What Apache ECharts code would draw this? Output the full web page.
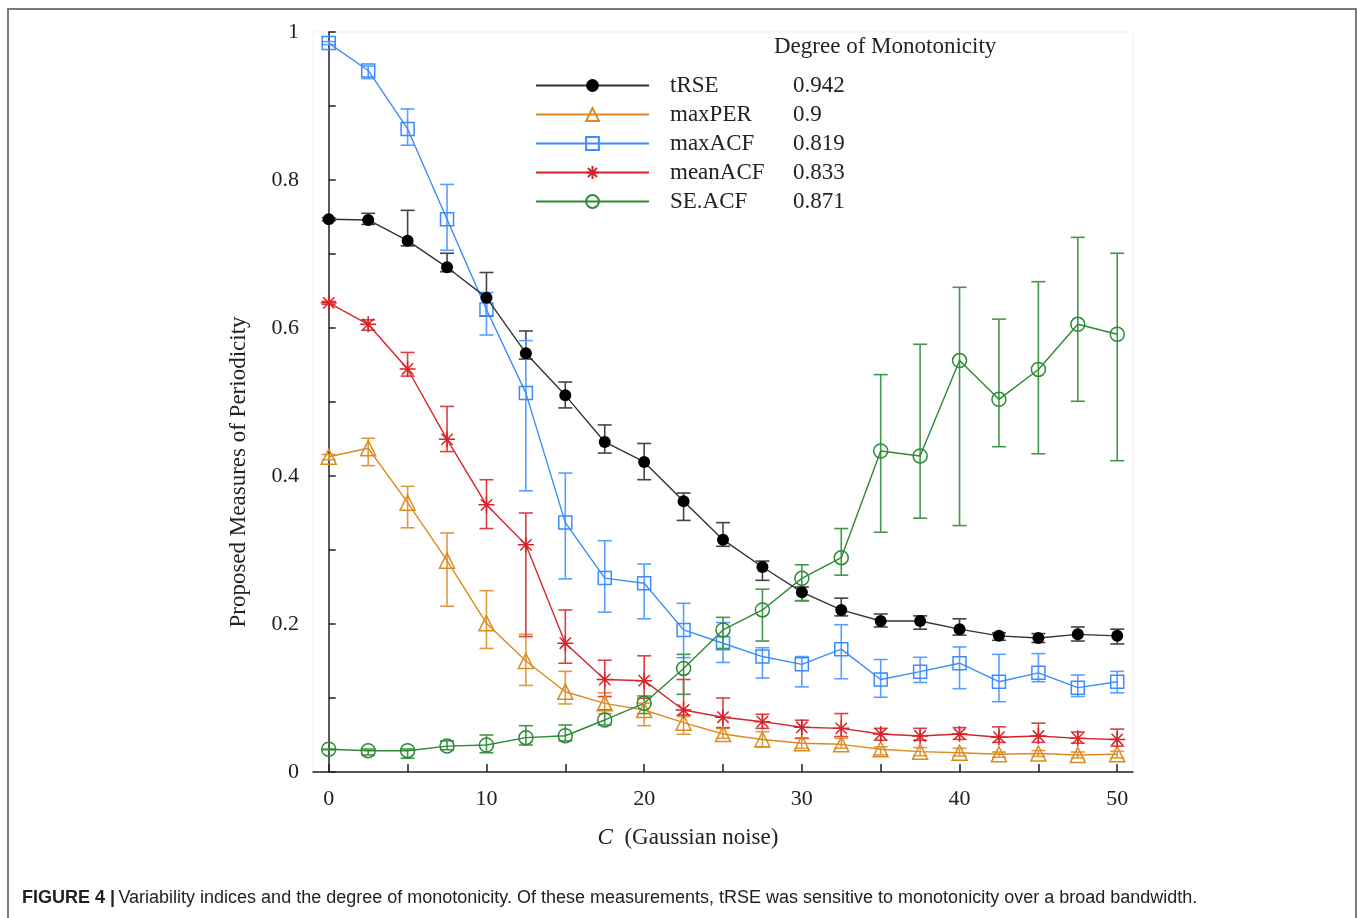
<!DOCTYPE html>
<html><head><meta charset="utf-8">
<script src="https://cdn.jsdelivr.net/npm/echarts@6/dist/echarts.min.js"></script>
<style>html,body{margin:0;padding:0;background:#fff}#c{width:1357px;height:918px}</style>
</head><body><div id="c"></div>
<script>
const xs = [0,2.5,5,7.5,10,12.5,15,17.5,20,22.5,25,27.5,30,32.5,35,37.5,40,42.5,45,47.5,50];
const seriesNames = ['tRSE','maxPER','maxACF','meanACF','SE.ACF'];
const monotonicity = ['0.942','0.9','0.819','0.833','0.871'];

const tRSE    = [0.747,0.746,0.718,0.682,0.641,0.566,0.509,0.446,0.419,0.366,0.314,0.277,0.243,0.219,0.204,0.204,0.193,0.184,0.181,0.186,0.184];
const tRSE_hi = [0.749,0.755,0.759,0.701,0.675,0.596,0.527,0.469,0.444,0.377,0.337,0.285,0.250,0.235,0.2135,0.211,0.207,0.188,0.187,0.196,0.193];
const tRSE_lo = [0.745,0.740,0.711,0.676,0.616,0.558,0.492,0.431,0.395,0.340,0.305,0.259,0.2315,0.211,0.196,0.193,0.185,0.178,0.175,0.177,0.173];

const maxPER    = [0.426,0.4375,0.364,0.2856,0.201,0.150,0.1085,0.0928,0.0838,0.0667,0.0513,0.044,0.0388,0.0374,0.0307,0.0275,0.026,0.024,0.025,0.023,0.024];
const maxPER_hi = [0.429,0.451,0.386,0.323,0.245,0.186,0.136,0.107,0.093,0.075,0.059,0.0545,0.0455,0.0455,0.034,0.033,0.032,0.027,0.029,0.027,0.028];
const maxPER_lo = [0.422,0.414,0.330,0.224,0.167,0.117,0.092,0.079,0.0626,0.051,0.0455,0.034,0.032,0.032,0.023,0.022,0.0216,0.020,0.021,0.019,0.019];

const maxACF    = [0.985,0.948,0.869,0.747,0.625,0.512,0.337,0.262,0.255,0.192,0.174,0.156,0.1455,0.166,0.125,0.1356,0.147,0.122,0.134,0.114,0.122];
const maxACF_hi = [0.987,0.954,0.896,0.794,0.648,0.583,0.404,0.3126,0.281,0.228,0.202,0.168,0.156,0.199,0.152,0.155,0.169,0.159,0.160,0.131,0.136];
const maxACF_lo = [0.983,0.937,0.847,0.705,0.5905,0.380,0.261,0.216,0.207,0.1545,0.148,0.127,0.115,0.126,0.101,0.121,0.1126,0.095,0.122,0.102,0.107];

const meanACF    = [0.634,0.605,0.5446,0.4495,0.361,0.307,0.174,0.125,0.1234,0.0838,0.074,0.068,0.0604,0.059,0.0513,0.0486,0.0513,0.047,0.0486,0.0455,0.044];
const meanACF_hi = [0.636,0.611,0.567,0.494,0.395,0.350,0.219,0.151,0.157,0.125,0.100,0.078,0.070,0.079,0.059,0.059,0.060,0.061,0.066,0.054,0.058];
const meanACF_lo = [0.632,0.597,0.535,0.433,0.329,0.183,0.147,0.102,0.0995,0.077,0.060,0.059,0.0455,0.048,0.043,0.043,0.044,0.040,0.040,0.039,0.035];

const seACF    = [0.0307,0.0288,0.0288,0.035,0.0365,0.0464,0.049,0.0703,0.0928,0.140,0.192,0.219,0.2617,0.2896,0.4338,0.427,0.556,0.5036,0.544,0.605,0.5915];
const seACF_hi = [0.031,0.031,0.031,0.042,0.050,0.0626,0.0635,0.084,0.1027,0.159,0.209,0.247,0.280,0.329,0.537,0.578,0.655,0.612,0.6626,0.7225,0.701];
const seACF_lo = [0.030,0.023,0.0185,0.030,0.026,0.0365,0.042,0.0635,0.079,0.105,0.167,0.177,0.2315,0.266,0.324,0.343,0.333,0.4396,0.430,0.501,0.4207];

const xTicks = [0,5,10,15,20,25,30,35,40,45,50];
const xLabels = [0,10,20,30,40,50];
const yLabels = [0,0.2,0.4,0.6,0.8,1];

const SERIF = '"Liberation Serif","DejaVu Serif",serif';
const colors = ['#111111','#dc8a1e','#3a8cff','#d8232a','#2c8a34'];
const barColors = ['#444444','#e09a3e','#5a9eff','#dc3f45','#44964a'];
const symbols = ['circle','triangle','rect',
  'path://M0,-10 L0,10 M-10,0 L10,0 M-7.07,-7.07 L7.07,7.07 M-7.07,7.07 L7.07,-7.07',
  'circle'];
const symSizes = [12,15,13,16,14];
const fills = ['#000000','transparent','transparent','#d8232a','transparent'];
const vals = [tRSE,maxPER,maxACF,meanACF,seACF];
const his = [tRSE_hi,maxPER_hi,maxACF_hi,meanACF_hi,seACF_hi];
const los = [tRSE_lo,maxPER_lo,maxACF_lo,meanACF_lo,seACF_lo];

const series = [];
seriesNames.forEach((name,i)=>{
  series.push({
    type:'custom', name: name+'_err', silent:true, z:2,
    data: xs.map((x,k)=>[x, los[i][k], his[i][k]]),
    renderItem:(params, api)=>{
      const x = api.value(0);
      const lo = api.coord([x, api.value(1)]);
      const hi = api.coord([x, api.value(2)]);
      const w = 7;
      const st = {stroke: barColors[i], lineWidth: 1.6, fill:null};
      return {type:'group', children:[
        {type:'line', shape:{x1:lo[0],y1:lo[1],x2:hi[0],y2:hi[1]}, style:st},
        {type:'line', shape:{x1:hi[0]-w,y1:hi[1],x2:hi[0]+w,y2:hi[1]}, style:st},
        {type:'line', shape:{x1:lo[0]-w,y1:lo[1],x2:lo[0]+w,y2:lo[1]}, style:st}
      ]};
    }
  });
});
seriesNames.forEach((name,i)=>{
  series.push({
    type:'line', name: name, z: 3 + (i===0?5:0),
    data: xs.map((x,k)=>[x, vals[i][k]]),
    symbol: symbols[i], symbolSize: symSizes[i], showAllSymbol:true,
    lineStyle:{color: i===0 ? '#333' : colors[i], width: 1.4},
    itemStyle:{color: fills[i], borderColor: colors[i], borderWidth: i===0?0:1.5},
    emphasis:{disabled:true}, animation:false
  });
});

const chart = echarts.init(document.getElementById('c'), null, {renderer:'canvas'});
chart.setOption({
  animation:false,
  backgroundColor:'#fff',
  grid:{left:313, right:224, top:32, bottom:146, show:true, borderColor:'#efefef', borderWidth:1},
  xAxis:{type:'value', min:-1, max:51,
    axisLine:{lineStyle:{color:'#222', width:1.5}},
    axisTick:{inside:true, length:8, customValues:xTicks, lineStyle:{color:'#222', width:1.5}},
    axisLabel:{customValues:xLabels, margin:16, fontFamily:SERIF, fontSize:22, color:'#222'},
    splitLine:{show:false}},
  yAxis:{type:'value', min:0, max:1, interval:0.1,
    axisLine:{show:true, lineStyle:{color:'#222', width:1.5}},
    axisTick:{inside:true, length:7, lineStyle:{color:'#222', width:1.5}},
    axisLabel:{customValues:yLabels, margin:14, fontFamily:SERIF, fontSize:22, color:'#222',
      formatter:v=>String(Math.round(v*10)/10)},
    splitLine:{show:false}},
  legend:{
    data: seriesNames, orient:'vertical', left:530, top:66, itemWidth:113, itemHeight:16, itemGap:0,
    selectedMode:false,
    formatter: name => '{n|'+name+'}{v|'+monotonicity[seriesNames.indexOf(name)]+'}',
    textStyle:{fontFamily:SERIF, fontSize:23, color:'#222', lineHeight:29,
      rich:{n:{width:123, padding:[0,0,0,16], fontFamily:SERIF, fontSize:23, color:'#222', lineHeight:29},
            v:{fontFamily:SERIF, fontSize:23, color:'#222', lineHeight:29}}}
  },
  graphic:[
    {type:'rect', shape:{x:8, y:9, width:1348, height:930}, style:{fill:null, stroke:'#7a7a7a', lineWidth:2}, silent:true},
    {type:'text', left:774, top:35, style:{text:'Degree of Monotonicity', font:'23px '+SERIF, fill:'#222'}},
    {type:'text', x:239, y:472, rotation:Math.PI/2, style:{text:'Proposed Measures of Periodicity', font:'23px '+SERIF, fill:'#222', align:'center', verticalAlign:'middle'}},
    {type:'text', x:688, y:838, style:{text:'{i|C}{n|  (Gaussian noise)}', align:'center', verticalAlign:'middle',
      rich:{i:{fontFamily:SERIF, fontSize:23, fontStyle:'italic', fill:'#222'}, n:{fontFamily:SERIF, fontSize:23, fill:'#222'}}}},
    {type:'text', x:22, y:898, style:{text:'{b|FIGURE 4 |} {n|Variability indices and the degree of monotonicity. Of these measurements, tRSE was sensitive to monotonicity over a broad bandwidth.}', verticalAlign:'middle',
      rich:{b:{fontFamily:'"Liberation Sans",Arial,sans-serif', fontSize:18, fontWeight:'bold', fill:'#222'}, n:{fontFamily:'"Liberation Sans",Arial,sans-serif', fontSize:18, fill:'#222'}}}}
  ],
  series: series
});
</script></body></html>
